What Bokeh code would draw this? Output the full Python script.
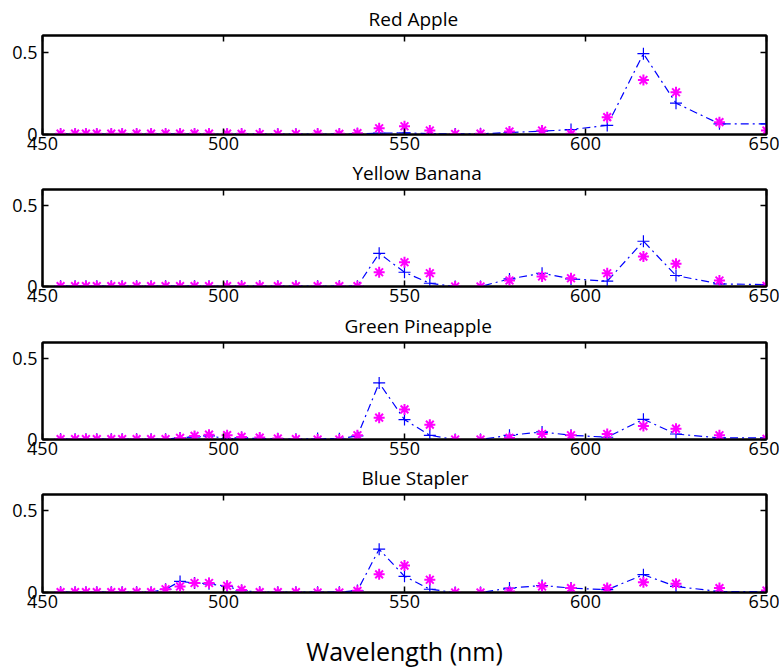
from bokeh.plotting import figure
from bokeh.models import LinearAxis, FixedTicker, Range1d
from bokeh.layouts import column
from bokeh.embed import file_html
from bokeh.resources import INLINE

wavelength = [455, 459, 462, 465, 469, 472, 476, 480, 484, 488, 492, 496, 501, 505,
              510, 515, 520, 526, 532, 537, 543, 550, 557, 564, 571, 579, 588, 596,
              606, 616, 625, 637, 650]

titles = ["Red Apple", "Yellow Banana", "Green Pineapple", "Blue Stapler"]

red_apple_blue = [0.002, 0.002, 0.002, 0.002, 0.002, 0.002, 0.002, 0.002, 0.002, 0.002,
                  0.002, 0.002, 0.002, 0.002, 0.002, 0.002, 0.002, 0.002, 0.002, 0.004,
                  0.008, 0.010, 0.005, 0.003, 0.004, 0.012, 0.020, 0.030, 0.055, 0.490,
                  0.190, 0.065, 0.065]
red_apple_magenta = [0.005, 0.005, 0.005, 0.005, 0.005, 0.005, 0.005, 0.005, 0.005, 0.005,
                     0.005, 0.005, 0.005, 0.004, 0.003, 0.003, 0.003, 0.004, 0.004, 0.008,
                     0.038, 0.050, 0.024, 0.003, 0.005, 0.018, 0.024, 0.004, 0.105, 0.330,
                     0.256, 0.075, 0.024]

yellow_banana_blue = [0.002, 0.002, 0.002, 0.002, 0.002, 0.002, 0.002, 0.002, 0.002, 0.002,
                      0.002, 0.002, 0.002, 0.002, 0.002, 0.002, 0.002, 0.002, 0.002, 0.002,
                      0.205, 0.088, 0.020, 0.000, 0.000, 0.047, 0.082, 0.047, 0.033, 0.280,
                      0.068, 0.016, 0.012]
yellow_banana_magenta = [0.002, 0.002, 0.002, 0.002, 0.002, 0.002, 0.002, 0.002, 0.002, 0.002,
                         0.002, 0.002, 0.002, 0.002, 0.002, 0.002, 0.002, 0.002, 0.002, 0.002,
                         0.088, 0.150, 0.082, 0.000, 0.000, 0.037, 0.062, 0.051, 0.082, 0.185,
                         0.140, 0.037, 0.004]

green_pineapple_blue = [0.002, 0.002, 0.002, 0.002, 0.002, 0.002, 0.002, 0.002, 0.002, 0.010,
                        0.016, 0.022, 0.006, 0.012, 0.004, 0.004, 0.002, 0.006, 0.004, 0.022,
                        0.350, 0.123, 0.026, 0.000, 0.000, 0.026, 0.047, 0.026, 0.014, 0.125,
                        0.034, 0.010, 0.010]
green_pineapple_magenta = [0.002, 0.002, 0.002, 0.002, 0.002, 0.002, 0.002, 0.002, 0.002, 0.010,
                           0.022, 0.030, 0.027, 0.016, 0.012, 0.006, 0.002, 0.000, 0.000, 0.026,
                           0.135, 0.186, 0.092, 0.000, 0.000, 0.010, 0.034, 0.026, 0.034, 0.083,
                           0.067, 0.026, 0.004]

blue_stapler_blue = [0.002, 0.002, 0.002, 0.002, 0.002, 0.002, 0.002, 0.002, 0.020, 0.068,
                     0.058, 0.053, 0.037, 0.012, 0.002, 0.002, 0.002, 0.002, 0.002, 0.012,
                     0.265, 0.099, 0.020, 0.000, 0.000, 0.027, 0.043, 0.027, 0.017, 0.109,
                     0.037, 0.006, 0.006]
blue_stapler_magenta = [0.002, 0.002, 0.002, 0.002, 0.002, 0.002, 0.002, 0.002, 0.020, 0.037,
                        0.058, 0.058, 0.041, 0.016, 0.002, 0.002, 0.002, 0.000, 0.000, 0.010,
                        0.111, 0.165, 0.078, 0.000, 0.000, 0.006, 0.037, 0.027, 0.027, 0.062,
                        0.054, 0.027, 0.012]

blue_series = [red_apple_blue, yellow_banana_blue, green_pineapple_blue, blue_stapler_blue]
magenta_series = [red_apple_magenta, yellow_banana_magenta, green_pineapple_magenta,
                  blue_stapler_magenta]

x_ticks = [450, 500, 550, 600, 650]
y_ticks = [0, 0.5]
y_tick_labels = {0: "0", 0.5: "0.5"}

FONT = "Open Sans"
# (height, border_top, border_bottom, title_offset) per panel
layout_spec = [(158, 35, 24, 326), (152, 30, 24, 310), (153, 32, 24, 302), (207, 31, 77, 319)]

figs = []
for i, (name, yb, ym) in enumerate(zip(titles, blue_series, magenta_series)):
    h, bt, bb, toff = layout_spec[i]
    p = figure(width=779, height=h, x_range=Range1d(450, 650), y_range=Range1d(0, 0.6),
               output_backend="svg", toolbar_location=None,
               min_border_left=42, min_border_right=13,
               min_border_top=bt, min_border_bottom=bb)
    p.title.text = name
    p.title.align = "left"
    p.title.offset = toff
    p.title.vertical_align = "top"
    p.title.text_font = FONT
    p.title.text_font_size = "19px"
    p.title.text_font_style = "normal"
    p.title.text_color = "black"
    p.title.standoff = 3
    p.grid.visible = False
    p.outline_line_color = "black"
    p.outline_line_width = 2
    p.background_fill_color = "white"
    p.border_fill_color = "white"

    bottom_ax = p.below[0]
    left_ax = p.left[0]
    bottom_ax.ticker = FixedTicker(ticks=x_ticks)
    left_ax.ticker = FixedTicker(ticks=y_ticks)
    left_ax.major_label_overrides = y_tick_labels
    for ax in (bottom_ax, left_ax):
        ax.major_tick_in = 6
        ax.major_tick_out = 0
        ax.minor_tick_in = 0
        ax.minor_tick_out = 0
        ax.minor_tick_line_color = None
        ax.axis_line_width = 2
        ax.major_tick_line_width = 1.5
        ax.major_label_text_font = FONT
        ax.major_label_text_font_size = "18px"
        ax.major_label_text_color = "black"
    bottom_ax.major_label_standoff = 2
    left_ax.major_label_standoff = 5
    left_ax.major_label_text_baseline = "alphabetic"

    top_ax = LinearAxis(ticker=FixedTicker(ticks=x_ticks), major_tick_in=6, major_tick_out=0,
                        minor_tick_in=0, minor_tick_out=0,
                        minor_tick_line_color=None, major_label_text_font_size="0px",
                        major_label_text_color=None,
                        major_label_standoff=0, axis_line_width=2, major_tick_line_width=1.5)
    right_ax = LinearAxis(ticker=FixedTicker(ticks=y_ticks), major_tick_in=6, major_tick_out=0,
                          minor_tick_in=0, minor_tick_out=0,
                          minor_tick_line_color=None, major_label_text_font_size="0px",
                          major_label_text_color=None,
                          major_label_standoff=0, axis_line_width=2, major_tick_line_width=1.5)
    p.add_layout(top_ax, "above")
    p.add_layout(right_ax, "right")

    p.line(wavelength, yb, line_color="blue", line_width=1.2, line_dash="8 4 2 4")
    p.scatter(wavelength, yb, marker="cross", size=12, line_color="blue", line_width=1.2)
    p.scatter(wavelength, ym, marker="asterisk", size=11, line_color="magenta", line_width=2)

    if i == 3:
        bottom_ax.axis_label = "Wavelength (nm)"
        bottom_ax.axis_label_text_font = FONT
        bottom_ax.axis_label_text_font_size = "25px"
        bottom_ax.axis_label_text_font_style = "normal"
        bottom_ax.axis_label_text_color = "black"
        bottom_ax.axis_label_standoff = 23
    figs.append(p)

layout = column(*figs, spacing=0)
open("out.html", "w").write(file_html(layout, INLINE))
